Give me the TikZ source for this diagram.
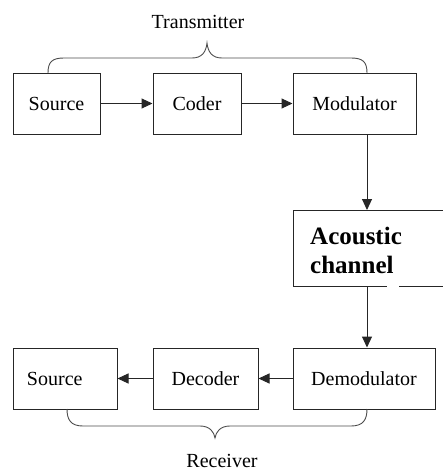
\documentclass[tikz,border=0pt]{standalone}
\usepackage{fontspec}
\setmainfont{Liberation Serif}
\usetikzlibrary{arrows.meta}
\begin{document}
\begin{tikzpicture}[x=1pt,y=-1pt,
  box/.style={draw=black!85, line width=1pt, inner sep=0pt, font=\fontsize{20}{24}\selectfont},
  conn/.style={draw=black!85, line width=1pt, -{Triangle[length=11pt,width=10pt]}},
  brace/.style={draw=black!70, line width=0.9pt},
  lbl/.style={font=\fontsize{20}{24}\selectfont, inner sep=0pt}]
\useasboundingbox (0,0) rectangle (443,474);
% transmitter row
\node[box, minimum width=87, minimum height=61] (src) at (56.5,103.5) {Source};
\node[box, minimum width=88, minimum height=61] (cod) at (197,103.5) {Coder};
\node[box, minimum width=123, minimum height=61] (mod) at (354.5,103.5) {Modulator};
% receiver row
\node[box, minimum height=61, text width=76pt, inner xsep=14pt, align=left] (dst) at (65,378.5) {Source};
\node[box, minimum width=105, minimum height=61] (dec) at (205.5,378.5) {Decoder};
\node[box, minimum width=142, minimum height=61] (dem) at (364,378.5) {Demodulator};
% acoustic channel (open to the right)
\draw[draw=black!85, line width=1pt] (443,210) -- (293,210) -- (293,286) -- (387,286);
\draw[draw=black!85, line width=1pt] (399,286) -- (443,286);
\node[anchor=west, inner sep=0pt, align=left, font=\fontsize{25}{29}\selectfont\bfseries] (ch) at (310,250) {Acoustic\\channel};
\coordinate (chTop) at (367,210);
\coordinate (chBot) at (367,286);
% connectors
\draw[conn] (src.east) -- (cod.west);
\draw[conn] (cod.east) -- (mod.west);
\draw[conn] (chTop |- mod.south) -- (chTop);
\draw[conn] (chBot) -- (chBot |- dem.north);
\draw[conn] (dem.west) -- (dec.east);
\draw[conn] (dec.west) -- (dst.east);
% braces
\draw[brace] (48,73) .. controls (48,62) and (52,58) .. (64,58) -- (192,58)
  .. controls (202,58) and (206,52) .. (207,43)
  .. controls (208,52) and (212,58) .. (222,58) -- (351,58)
  .. controls (363,58) and (367,62) .. (367,73);
\draw[brace] (67,409) .. controls (67,420) and (71,426) .. (83,426) -- (200,426)
  .. controls (210,426) and (214,432) .. (215,438)
  .. controls (216,432) and (220,426) .. (230,426) -- (351,426)
  .. controls (363,426) and (367,420) .. (367,409);
\node[lbl] (tx) at (198,22) {Transmitter};
\node[lbl] (rx) at (222,461) {Receiver};
\end{tikzpicture}
\end{document}
